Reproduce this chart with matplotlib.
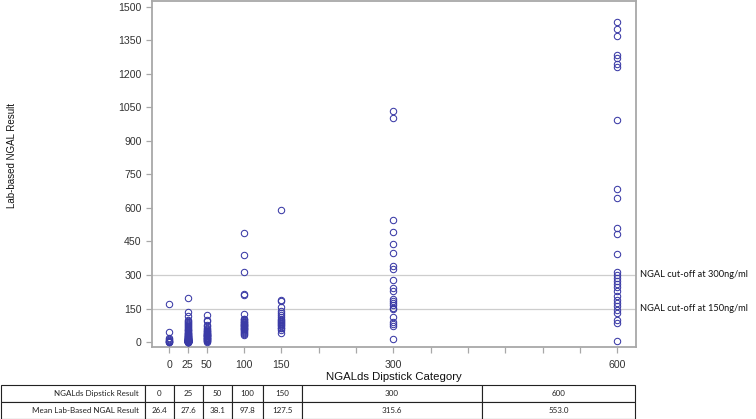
import matplotlib
matplotlib.use("Agg")
import matplotlib.pyplot as plt
from matplotlib.ticker import FixedLocator

# ---------------- data ----------------
categories = [0, 25, 50, 100, 150, 300, 600]
cat_labels = ["0", "25", "50", "100", "150", "300", "600"]
mean_results = ["26.4", "27.6", "38.1", "97.8", "127.5", "315.6", "553.0"]

vals_0 = [170, 44, 18, 12, 8, 5, 3, 2, 1, 1]
vals_25 = [197, 135, 118, 100, 95, 90, 85, 80, 76, 72, 68, 64, 60, 56, 52, 48,
           45, 42, 40, 38, 35, 33, 30, 28, 26, 24, 22, 20, 18, 16, 15, 14, 12,
           11, 10, 9, 8, 7, 6, 5, 5, 4, 4, 3, 3, 2, 2, 2, 1, 1, 1, 0, 0, 12,
           15, 18, 20, 22, 25, 8, 6, 10, 7, 6, 5, 4, 4, 3, 3, 9, 8, 2, 1, 5, 6, 7]
vals_50 = [123, 100, 95, 78, 72, 65, 60, 55, 50, 48, 45, 42, 40, 38, 35, 32,
           30, 28, 25, 22, 20, 18, 15, 12, 10, 8, 5, 3, 2, 30, 25, 20]
vals_100 = [488, 389, 315, 216, 212, 126, 105, 98, 92, 86, 80, 75, 70, 65, 60,
            55, 50, 45, 40, 35, 30, 102, 95, 88, 82, 77, 72, 68, 62, 58]
vals_150 = [590, 188, 185, 156, 140, 130, 120, 112, 100, 90, 85, 76, 62, 55,
            40, 105, 95, 80, 70, 65]
vals_300 = [1032, 1001, 544, 491, 437, 397, 338, 328, 279, 240, 228, 194, 184,
            175, 165, 154, 146, 113, 90, 80, 71, 12]
vals_600 = [1430, 1400, 1370, 1285, 1270, 1245, 1230, 995, 685, 645, 510, 485,
            395, 315, 300, 285, 275, 260, 245, 230, 205, 190, 175, 160, 145,
            130, 100, 85, 5]
series = [vals_0, vals_25, vals_50, vals_100, vals_150, vals_300, vals_600]

cutoffs = [300, 150]
cutoff_labels = ["NGAL cut-off at 300ng/ml", "NGAL cut-off at 150ng/ml"]

yticks = list(range(0, 1501, 150))
minor_x = [200, 250, 350, 400, 450, 500, 550]

row_headers = ["NGALds Dipstick Result", "Mean Lab-Based NGAL Result"]

# ---------------- figure ----------------
W, H = 756, 419
fig = plt.figure(figsize=(W / 100, H / 100), dpi=100)
ax = fig.add_axes([152 / W, 1 - 347 / H, (636 - 152) / W, (347 - 1) / H])

marker_color = "#3A3AA6"
for c, vals in zip(categories, series):
    ax.plot([c] * len(vals), vals, linestyle="none", marker="o",
            markersize=4.6, markerfacecolor="none",
            markeredgecolor=marker_color, markeredgewidth=0.75, zorder=3)

for yv, lab in zip(cutoffs, cutoff_labels):
    ax.axhline(yv, color="#CDCDCD", lw=0.9, zorder=1)
    ax.text(1.009, yv, lab, transform=ax.get_yaxis_transform(),
            ha="left", va="center", fontsize=6.7, family="Lato",
            color="#111111", clip_on=False)

ax.set_xlim(-23, 625)
ax.set_ylim(-22, 1525)
ax.set_xticks(categories)
ax.set_xticklabels(cat_labels)
ax.xaxis.set_minor_locator(FixedLocator(minor_x))
ax.set_yticks(yticks)
ax.set_yticklabels([str(v) for v in yticks])

spine_col = "#A8A8A8"
for s in ax.spines.values():
    s.set_color(spine_col)
    s.set_linewidth(1.3)
ax.tick_params(axis="both", which="both", color=spine_col, length=4,
               width=0.9, labelsize=7.6, labelcolor="#333333",
               direction="out")
ax.tick_params(axis="x", pad=5)
for t in ax.get_xticklabels() + ax.get_yticklabels():
    t.set_family("Liberation Sans")

fig.text(394 / W, 1 - 377 / H, "NGALds Dipstick Category", ha="center",
         va="center", fontsize=8.2, family="Liberation Sans", color="#111111")
fig.text(12 / W, 1 - 156 / H, "Lab-based NGAL Result", ha="center",
         va="center", rotation=90, fontsize=7.0, family="Liberation Sans",
         color="#111111")

# ---------------- table ----------------
col_px = [144, 29, 29, 29, 31, 39, 180, 153]
total = sum(col_px)
tax = fig.add_axes([1 / W, 1 - 418.5 / H, total / W, 34 / H])
tax.axis("off")
cell_text = [[row_headers[0]] + cat_labels, [row_headers[1]] + mean_results]
tbl = tax.table(cellText=cell_text, colWidths=[w / total for w in col_px],
                bbox=[0, 0, 1, 1], cellLoc="center")
tbl.auto_set_font_size(False)
for (r, c), cell in tbl.get_celld().items():
    cell.set_edgecolor("#222222")
    cell.set_linewidth(0.8)
    cell.get_text().set_fontsize(5.8)
    cell.get_text().set_family("Lato")
    cell.get_text().set_color("#222222")
    if c == 0:
        cell._loc = "right"
        cell.PAD = 0.045
        cell.get_text().set_ha("right")

fig.savefig("out.png", dpi=100)
